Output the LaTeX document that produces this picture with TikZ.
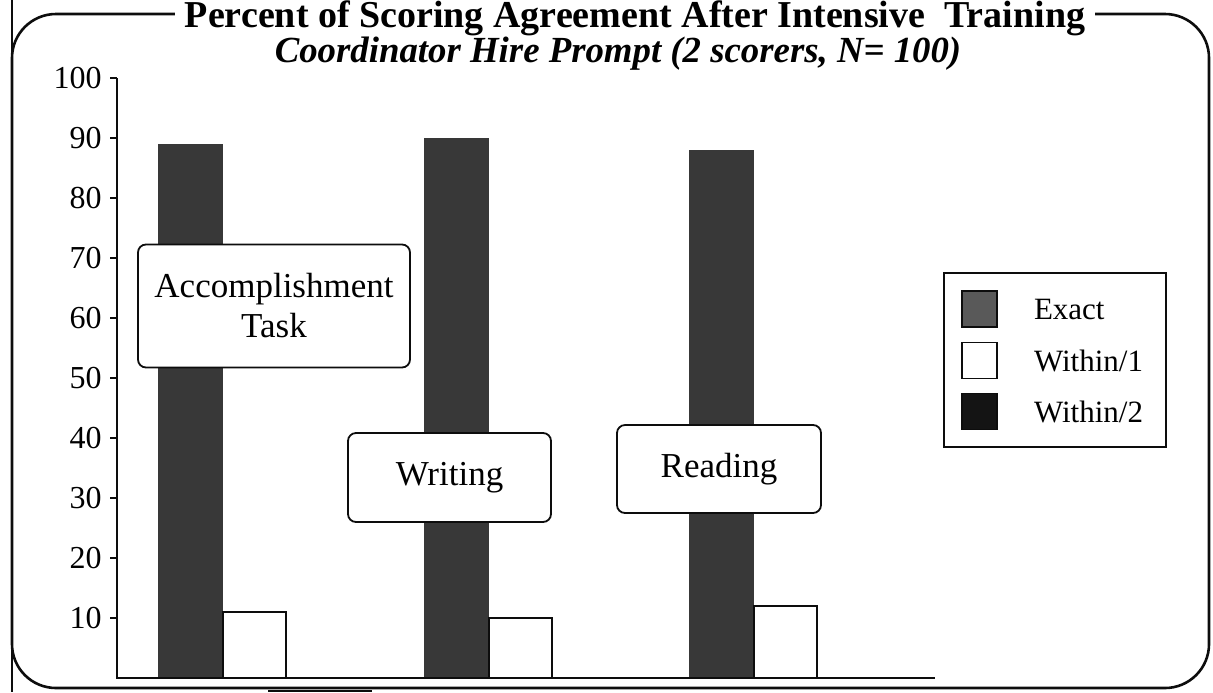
\documentclass[tikz,border=0pt]{standalone}
\usepackage{fontspec}
\setmainfont{Liberation Serif}
\usepackage{xcolor}
\usepackage{tikz}
\usetikzlibrary{positioning}
\definecolor{screxact}{gray}{0.22}
\definecolor{scrswatch}{gray}{0.35}
\definecolor{scrwtwo}{gray}{0.08}
\definecolor{scrink}{gray}{0.05}
\tikzset{
  chartframe/.style={draw=scrink,line width=1.3pt,rounded corners=22pt},
  axis/.style={draw=scrink,line width=0.9pt},
  ttl/.style={fill=white,anchor=base,inner xsep=5pt,inner ysep=0pt,text depth=0pt,font=\fontsize{19}{22}\selectfont\bfseries},
  subttl/.style={anchor=base,inner sep=0pt,font=\fontsize{18.4}{22}\selectfont\bfseries\itshape},
  ylab/.style={anchor=east,inner sep=0pt,font=\fontsize{16}{18}\selectfont},
  tag/.style={draw=scrink,fill=white,line width=0.9pt,rounded corners=4pt,align=center,inner sep=0pt,font=\fontsize{17.5}{20}\selectfont},
  legbox/.style={draw=scrink,line width=0.9pt,minimum width=111pt,minimum height=87pt,inner sep=0pt},
  swatch/.style={draw=scrink,line width=0.6pt,minimum width=17.5pt,minimum height=18pt,inner sep=0pt},
  legtxt/.style={inner sep=0pt,font=\fontsize{15.5}{17}\selectfont},
}

\begin{document}
\begin{tikzpicture}[x=0.5pt,y=-0.5pt]
  \useasboundingbox (0,0) rectangle (1213,692);
  \draw[chartframe] (12,14) rectangle (1209,688);
  \draw[scrink,line width=0.6pt] (12,0) -- (12,692) (268,691) -- (372,691);
  \node[ttl] (title) at (635,27.5) {Percent of Scoring Agreement After Intensive\ \ Training};
  \node[subttl] (subtitle) at (618,62.5) {Coordinator Hire Prompt (2 scorers, N= 100)};
  \coordinate (ytop) at (117,78); \coordinate (origin) at (117,678); \coordinate (xend) at (935,678);
  \foreach \v in {10,20,...,100} {\draw[axis] (110,678-6*\v) -- (117,678-6*\v); \node[ylab] (y\v) at (102,678-6*\v) {\v};}
  \foreach \x/\e/\w in {158/89/11,424/90/10,689/88/12} {\fill[screxact] (\x,678) rectangle ++(65,-6*\e); \draw[scrink,fill=white,line width=0.7pt] (\x+65,678) rectangle ++(63,-6*\w);}
  \draw[axis] (ytop) -- (origin) -- (xend);
  \node[tag,minimum width=136pt,minimum height=61.5pt] (acc) at (274,306) {Accomplishment\\Task};
  \node[tag,minimum width=101.5pt,minimum height=44.5pt] (wri) at (449.5,477.5) {Writing};
  \node[tag,minimum width=102pt,minimum height=44pt] (rea) at (719,469) {Reading};
  \node[legbox] (legend) at (1055,360) {};
  \node[swatch,fill=scrswatch] (sw1) at (979.5,309) {};
  \node[swatch,fill=white] (sw2) at (979.5,360.5) {};
  \node[swatch,fill=scrwtwo] (sw3) at (979.5,411.5) {};
  \node[legtxt,right=18pt of sw1] (l1) {Exact};
  \node[legtxt,right=18pt of sw2] (l2) {Within/1};
  \node[legtxt,right=18pt of sw3] (l3) {Within/2};
\end{tikzpicture}
\end{document}
